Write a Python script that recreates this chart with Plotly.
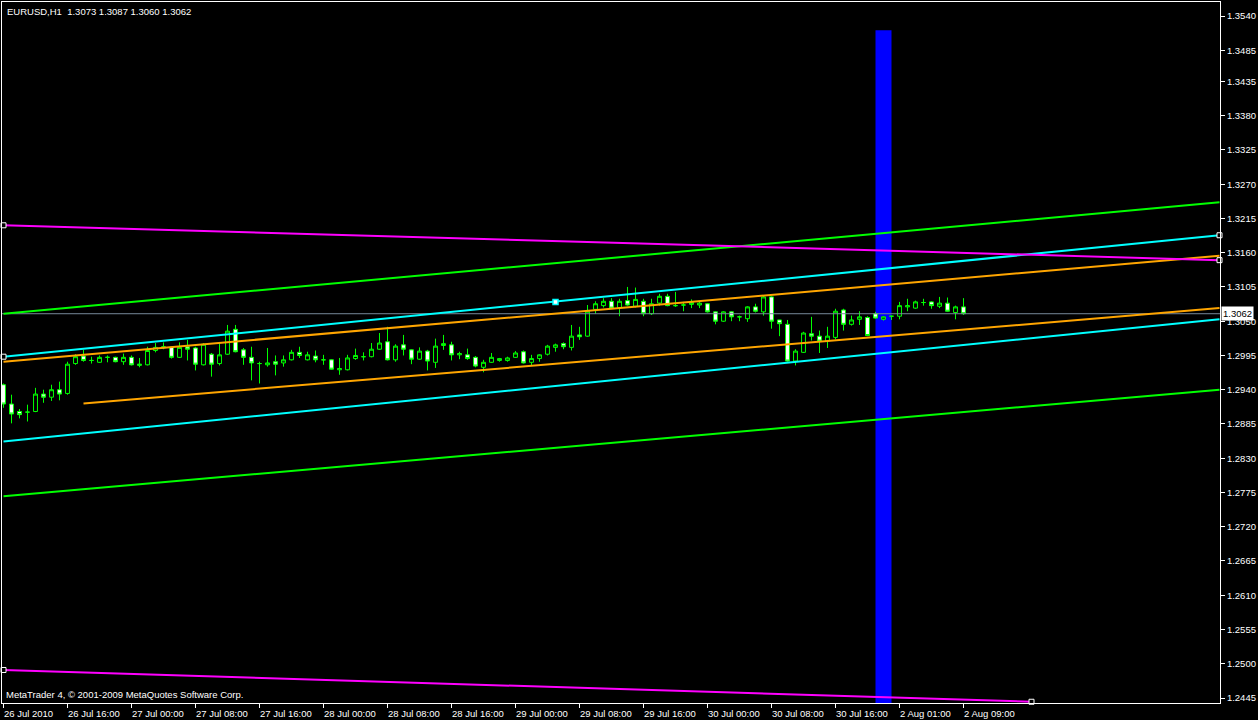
import plotly.graph_objects as go

# ---------------- data ----------------
symbol_title = "EURUSD,H1\u00a0\u00a01.3073 1.3087 1.3060 1.3062"
copyright_text = "MetaTrader 4, \u00a9 2001-2009 MetaQuotes Software Corp."

opens = [1.2948, 1.2917, 1.2905, 1.2904, 1.2905, 1.2933, 1.2928, 1.2940, 1.2934, 1.2982,
         1.2994, 1.2987, 1.2984, 1.2992, 1.2992, 1.2985, 1.2992, 1.2979, 1.2980, 1.3003,
         1.3007, 1.3008, 1.2992, 1.3009, 1.3007, 1.2980, 1.2997, 1.2982, 1.2997, 1.3037,
         1.3004, 1.2992, 1.2982, 1.2980, 1.2985, 1.2983, 1.2988, 1.3000, 1.2988, 1.2994,
         1.2988, 1.2988, 1.2972, 1.2972, 1.2990, 1.2993, 1.2993, 1.3005, 1.3017, 1.2988,
         1.3012, 1.3004, 1.2989, 1.3002, 1.2984, 1.3011, 1.3012, 1.2996, 1.2996, 1.2992,
         1.2976, 1.2984, 1.2987, 1.2987, 1.2992, 1.3001, 1.2984, 1.2990, 1.2997, 1.3008,
         1.3014, 1.3008, 1.3028, 1.3026, 1.3069, 1.3075, 1.3082, 1.3072, 1.3083, 1.3074,
         1.3082, 1.3062, 1.3079, 1.3090, 1.3075, 1.3076, 1.3077, 1.3076, 1.3078, 1.3065,
         1.3050, 1.3065, 1.3057, 1.3054, 1.3073, 1.3065, 1.3089, 1.3052, 1.3045, 1.2986,
         1.3000, 1.3030, 1.3026, 1.3018, 1.3024, 1.3068, 1.3045, 1.3053, 1.3056, 1.3062,
         1.3053, 1.3058, 1.3058, 1.3073, 1.3071, 1.3080, 1.3081, 1.3074, 1.3079, 1.3064,
         1.3073]
highs = [1.2950, 1.2932, 1.2909, 1.2916, 1.2943, 1.2940, 1.2948, 1.2953, 1.2985, 1.2997,
         1.3004, 1.2993, 1.2995, 1.2995, 1.2993, 1.2998, 1.2995, 1.2991, 1.3009, 1.3015,
         1.3016, 1.3009, 1.3016, 1.3020, 1.3009, 1.3015, 1.2999, 1.3015, 1.3044, 1.3044,
         1.3007, 1.3009, 1.2985, 1.3007, 1.2995, 1.2995, 1.3004, 1.3009, 1.3001, 1.3003,
         1.2996, 1.2989, 1.2991, 1.2996, 1.3006, 1.3000, 1.3015, 1.3031, 1.3041, 1.3013,
         1.3028, 1.3005, 1.3008, 1.3004, 1.3022, 1.3028, 1.3017, 1.3001, 1.3006, 1.2994,
         1.2988, 1.2999, 1.2991, 1.2993, 1.3002, 1.3003, 1.2996, 1.2997, 1.3012, 1.3014,
         1.3016, 1.3044, 1.3041, 1.3076, 1.3082, 1.3087, 1.3087, 1.3086, 1.3105, 1.3104,
         1.3086, 1.3086, 1.3094, 1.3094, 1.3097, 1.3081, 1.3085, 1.3081, 1.3079, 1.3066,
         1.3066, 1.3066, 1.3059, 1.3074, 1.3078, 1.3091, 1.3090, 1.3052, 1.3052, 1.3005,
         1.3033, 1.3057, 1.3035, 1.3041, 1.3070, 1.3070, 1.3059, 1.3066, 1.3058, 1.3065,
         1.3058, 1.3059, 1.3081, 1.3086, 1.3083, 1.3086, 1.3082, 1.3089, 1.3088, 1.3075,
         1.3087]
lows = [1.2911, 1.2886, 1.2894, 1.2889, 1.2904, 1.2919, 1.2922, 1.2923, 1.2932, 1.2980,
        1.2985, 1.2982, 1.2983, 1.2984, 1.2984, 1.2980, 1.2979, 1.2976, 1.2979, 1.3000,
        1.3005, 1.2990, 1.2991, 1.2987, 1.2971, 1.2979, 1.2961, 1.2979, 1.2996, 1.3000,
        1.2980, 1.2955, 1.2950, 1.2977, 1.2963, 1.2977, 1.2987, 1.2991, 1.2987, 1.2984,
        1.2980, 1.2972, 1.2964, 1.2971, 1.2988, 1.2987, 1.2992, 1.3004, 1.2987, 1.2985,
        1.2995, 1.2981, 1.2988, 1.2971, 1.2975, 1.3004, 1.2987, 1.2989, 1.2988, 1.2976,
        1.2968, 1.2983, 1.2985, 1.2985, 1.2991, 1.2982, 1.2979, 1.2985, 1.2995, 1.3001,
        1.3005, 1.3003, 1.3020, 1.3025, 1.3062, 1.3072, 1.3070, 1.3058, 1.3075, 1.3072,
        1.3058, 1.3060, 1.3075, 1.3074, 1.3073, 1.3066, 1.3071, 1.3071, 1.3064, 1.3045,
        1.3049, 1.3050, 1.3050, 1.3049, 1.3064, 1.3059, 1.3038, 1.3026, 1.2985, 1.2979,
        1.2999, 1.3019, 1.2999, 1.3007, 1.3021, 1.3035, 1.3043, 1.3044, 1.3026, 1.3054,
        1.3051, 1.3052, 1.3053, 1.3066, 1.3070, 1.3075, 1.3070, 1.3071, 1.3065, 1.3053,
        1.3060]
closes = [1.2917, 1.2901, 1.2900, 1.2904, 1.2933, 1.2928, 1.2940, 1.2933, 1.2981, 1.2993,
          1.2987, 1.2987, 1.2992, 1.2992, 1.2985, 1.2992, 1.2980, 1.2981, 1.3003, 1.3008,
          1.3009, 1.2992, 1.3008, 1.3005, 1.2981, 1.3013, 1.2981, 1.2996, 1.3034, 1.3001,
          1.2992, 1.2983, 1.2982, 1.2983, 1.2981, 1.2988, 1.3000, 1.2995, 1.2996, 1.2988,
          1.2988, 1.2973, 1.2974, 1.2991, 1.2995, 1.2993, 1.3005, 1.3015, 1.2988, 1.3010,
          1.3005, 1.2989, 1.3002, 1.2986, 1.3010, 1.3014, 1.2996, 1.2998, 1.2990, 1.2978,
          1.2984, 1.2992, 1.2990, 1.2991, 1.2999, 1.2983, 1.2990, 1.2996, 1.3010, 1.3012,
          1.3009, 1.3026, 1.3025, 1.3066, 1.3078, 1.3082, 1.3071, 1.3082, 1.3076, 1.3085,
          1.3062, 1.3078, 1.3090, 1.3075, 1.3075, 1.3076, 1.3080, 1.3079, 1.3065, 1.3050,
          1.3065, 1.3057, 1.3057, 1.3073, 1.3066, 1.3089, 1.3050, 1.3046, 1.2986, 1.3002,
          1.3031, 1.3026, 1.3018, 1.3026, 1.3066, 1.3045, 1.3052, 1.3057, 1.3027, 1.3055,
          1.3057, 1.3058, 1.3075, 1.3075, 1.3081, 1.3080, 1.3075, 1.3079, 1.3066, 1.3073,
          1.3062]
bars = list(range(len(closes)))

time_tick_bars = [0, 8, 16, 24, 32, 40, 48, 56, 64, 72, 80, 88, 96, 104, 112, 120]
time_tick_labels = ["26 Jul 2010", "26 Jul 16:00", "27 Jul 00:00", "27 Jul 08:00",
                    "27 Jul 16:00", "28 Jul 00:00", "28 Jul 08:00", "28 Jul 16:00",
                    "29 Jul 00:00", "29 Jul 08:00", "29 Jul 16:00", "30 Jul 00:00",
                    "30 Jul 08:00", "30 Jul 16:00", "2 Aug 01:00", "2 Aug 09:00"]
price_tick_labels = ["1.3540", "1.3485", "1.3435", "1.3380", "1.3325", "1.3270", "1.3215",
                     "1.3160", "1.3105", "1.3050", "1.2995", "1.2940", "1.2885", "1.2830",
                     "1.2775", "1.2720", "1.2665", "1.2610", "1.2555", "1.2500", "1.2445"]

# trend lines: (bars, prices)
green_upper_bars, green_upper_prices = [0, 152], [1.3062, 1.3241]
green_lower_bars, green_lower_prices = [0, 152], [1.2769, 1.2940]
cyan_upper_bars, cyan_upper_prices = [0, 152], [1.2993, 1.3188]
cyan_lower_bars, cyan_lower_prices = [0, 152], [1.2857, 1.3053]
orange_upper_bars, orange_upper_prices = [0, 152], [1.2985, 1.3155]
orange_lower_bars, orange_lower_prices = [10, 152], [1.2918, 1.3071]
magenta_upper_bars, magenta_upper_prices = [0, 152], [1.3204, 1.3148]
magenta_lower_bars, magenta_lower_prices = [0, 128.5], [1.2490, 1.2439]

anchor_bars = [0, 152, 0, 152, 0, 128.5]
anchor_prices = [1.3204, 1.3148, 1.2993, 1.3188, 1.2490, 1.2439]
cyan_mark_bar, cyan_mark_price = [69], [1.3081]

rect_bars = [109, 111]
rect_prices = [1.2400, 1.3517]

bid_price = closes[-1]

x_range = [-0.1875, 152.0625]
y_range = [1.2437, 1.35625]

FONT = "Liberation Sans"
FS = 9.5

fig = go.Figure()

fig.add_shape(type="rect", xref="x", yref="y", x0=rect_bars[0], x1=rect_bars[1],
              y0=rect_prices[0], y1=rect_prices[1], fillcolor="#0000FF",
              line=dict(width=0), layer="below")

# bid line
fig.add_trace(go.Scatter(x=[x_range[0], x_range[1]], y=[bid_price, bid_price], mode="lines",
                         line=dict(color="#778899", width=1), hoverinfo="skip"))

line_specs = [
    (green_upper_bars, green_upper_prices, "#00FF00"),
    (green_lower_bars, green_lower_prices, "#00FF00"),
    (cyan_upper_bars, cyan_upper_prices, "#00FFFF"),
    (cyan_lower_bars, cyan_lower_prices, "#00FFFF"),
    (orange_upper_bars, orange_upper_prices, "#FFA500"),
    (orange_lower_bars, orange_lower_prices, "#FFA500"),
    (magenta_upper_bars, magenta_upper_prices, "#FF00FF"),
    (magenta_lower_bars, magenta_lower_prices, "#FF00FF"),
]
for bx, py, col in line_specs:
    fig.add_trace(go.Scatter(x=bx, y=py, mode="lines", line=dict(color=col, width=2),
                             hoverinfo="skip", cliponaxis=True))

fig.add_trace(go.Candlestick(
    x=bars, open=opens, high=highs, low=lows, close=closes,
    increasing=dict(line=dict(color="#00FF00", width=1), fillcolor="#000000"),
    decreasing=dict(line=dict(color="#00FF00", width=1), fillcolor="#FFFFFF"),
    whiskerwidth=0, hoverinfo="skip"))

fig.add_trace(go.Scatter(x=anchor_bars, y=anchor_prices, mode="markers",
                         marker=dict(symbol="square", size=5, color="#000000",
                                     line=dict(color="#FFFFFF", width=1)),
                         cliponaxis=False, hoverinfo="skip"))
fig.add_trace(go.Scatter(x=cyan_mark_bar, y=cyan_mark_price, mode="markers",
                         marker=dict(symbol="square", size=5, color="#FFFFFF",
                                     line=dict(color="#00FFFF", width=1.5)),
                         hoverinfo="skip"))

annotations = []
for b, lab in zip(time_tick_bars, time_tick_labels):
    annotations.append(dict(x=b, y=0, xref="x", yref="paper", text=lab, showarrow=False,
                            xanchor="left", yanchor="top", yshift=-3, xshift=-2,
                            font=dict(family=FONT, size=FS, color="white")))
annotations.append(dict(x=0, y=1, xref="paper", yref="paper", text=symbol_title,
                        showarrow=False, xanchor="left", yanchor="top", xshift=3, yshift=-2,
                        font=dict(family=FONT, size=FS, color="white")))
annotations.append(dict(x=0, y=0, xref="paper", yref="paper", text=copyright_text,
                        showarrow=False, xanchor="left", yanchor="bottom", xshift=2, yshift=1,
                        font=dict(family=FONT, size=FS, color="white")))
annotations.append(dict(x=1, y=bid_price, xref="paper", yref="y", text=f"{bid_price:.4f}",
                        showarrow=False, xanchor="left", yanchor="middle", xshift=1,
                        bgcolor="white", borderpad=1,
                        font=dict(family=FONT, size=FS, color="black")))

fig.update_layout(
    width=1258, height=720,
    margin=dict(l=2, r=38, t=2, b=17, pad=0),
    paper_bgcolor="black", plot_bgcolor="black",
    showlegend=False,
    annotations=annotations,
    xaxis=dict(range=x_range, showgrid=False, zeroline=False, rangeslider=dict(visible=False),
               showline=True, linecolor="white", linewidth=1, mirror=True,
               tickmode="array", tickvals=time_tick_bars, ticktext=[""] * len(time_tick_bars),
               ticks="outside", ticklen=4, tickcolor="white", showticklabels=False),
    yaxis=dict(range=y_range, side="right", showgrid=False, zeroline=False,
               showline=True, linecolor="white", linewidth=1, mirror=True,
               tickmode="array", tickvals=[float(t) for t in price_tick_labels],
               ticktext=price_tick_labels, ticks="outside", ticklen=4, tickcolor="white",
               tickfont=dict(family=FONT, size=FS, color="white")),
)

fig.write_html("out.html", config={"displayModeBar": False},
               post_script="document.body.style.margin='0';document.body.style.padding='0';"
                           "document.body.style.background='black';")
